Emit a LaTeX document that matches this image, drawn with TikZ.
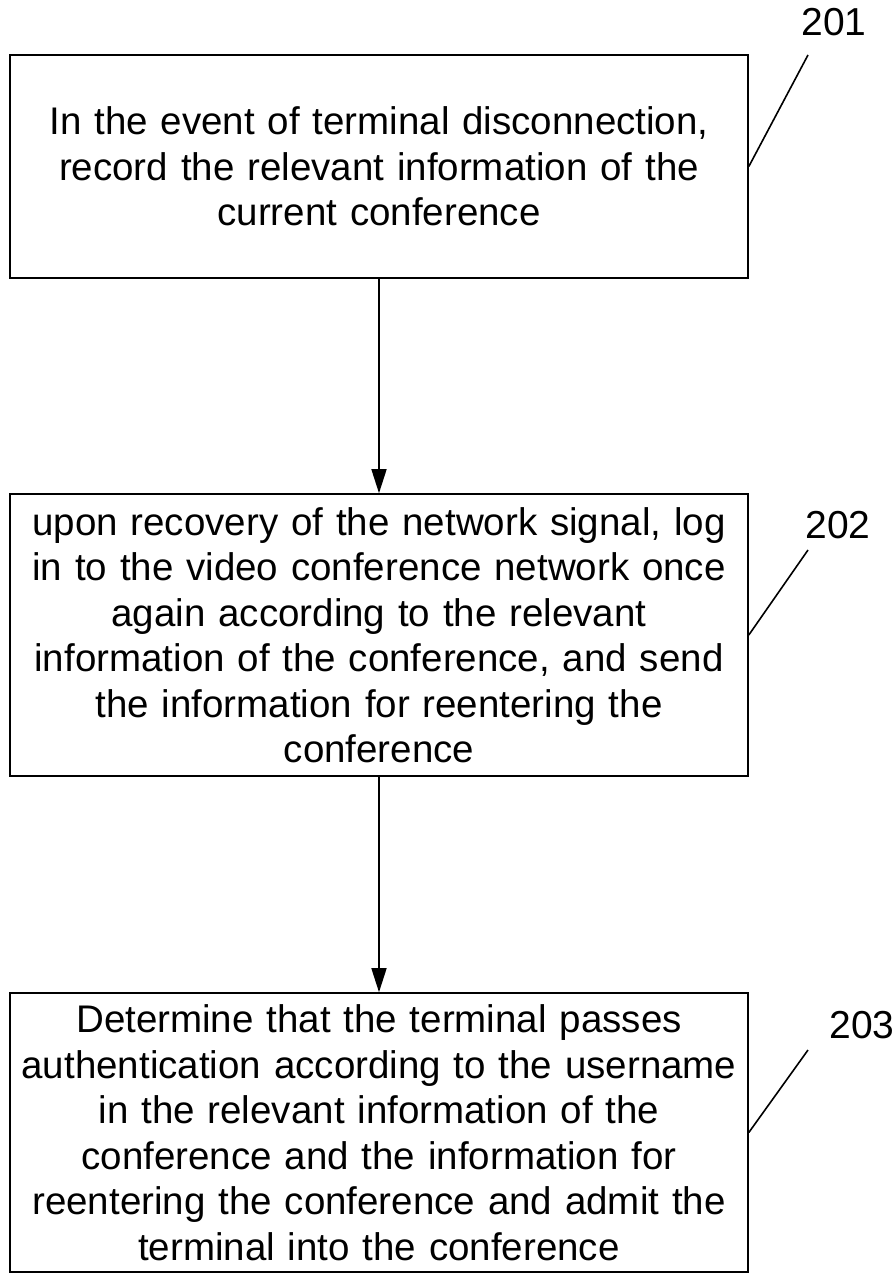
\documentclass[tikz,border=0pt]{standalone}
\usepackage{fontspec}
\setmainfont{Liberation Sans}
\usetikzlibrary{arrows.meta}
\tikzset{
	stepbox/.style = {draw, line width = 1.6pt, minimum width = 738pt, inner sep = 0pt,
		align = center, text width = 730pt, font = \fontsize{38.5}{45.5}\selectfont},
	refnum/.style = {font = \fontsize{39}{44}\selectfont},
	flow/.style = {line width = 1.6pt, -{Triangle[length = 24pt, width = 15pt]}},
	leader/.style = {line width = 1.6pt}
}
\begin{document}
\begin{tikzpicture}[x = 1pt, y = -1pt]
	\useasboundingbox (0,0) rectangle (894,1279);
	\node [stepbox, minimum height = 223pt] (s201) at (379,166.5)
		{In the event of terminal disconnection,\\record the relevant information of the\\current conference};
	\node [stepbox, minimum height = 282pt] (s202) at (379,635)
		{upon recovery of the network signal, log\\in to the video conference network once\\again according to the relevant\\information of the conference, and send\\the information for reentering the\\conference};
	\node [stepbox, minimum height = 279pt] (s203) at (379,1132.5)
		{Determine that the terminal passes\\authentication according to the username\\in the relevant information of the\\conference and the information for\\reentering the conference and admit the\\terminal into the conference};
	\draw [flow] (s201) -- (s202);
	\draw [flow] (s202) -- (s203);
	% reference numerals
	\coordinate (t201) at (808,55);
	\coordinate (t202) at (808,550);
	\coordinate (t203) at (808,1050);
	\draw [leader] (s201.east) -- (t201);
	\draw [leader] (s202.east) -- (t202);
	\draw [leader] (s203.east) -- (t203);
	\node [refnum] (n201) at (834,22) {201};
	\node [refnum] (n202) at (838,525) {202};
	\node [refnum] (n203) at (862,1025) {203};
\end{tikzpicture}
\end{document}
